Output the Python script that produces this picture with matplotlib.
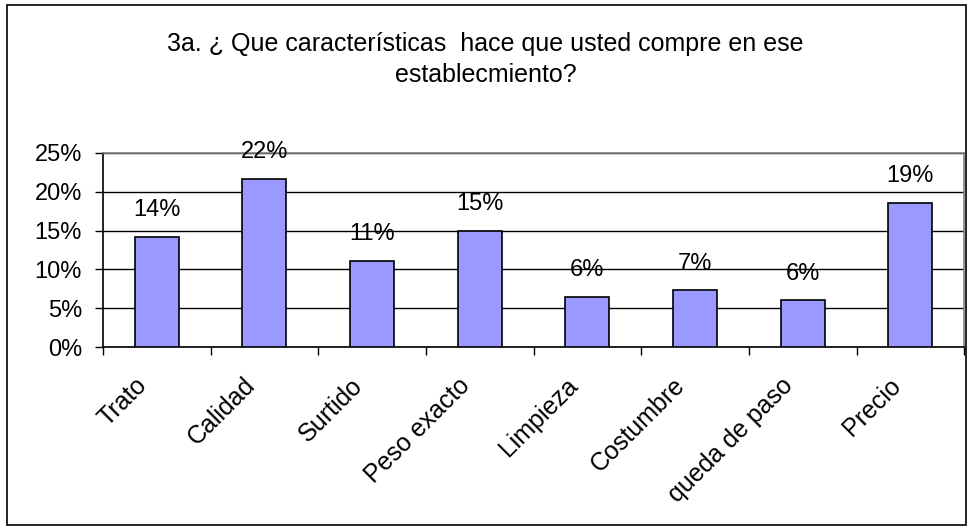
import numpy as np
import matplotlib
matplotlib.use("Agg")
import matplotlib.pyplot as plt
import matplotlib.transforms as mtransforms
from matplotlib.patches import Rectangle
from matplotlib.ticker import FixedLocator, NullFormatter

# Data
categories = ["Trato", "Calidad", "Surtido", "Peso exacto", "Limpieza",
              "Costumbre", "queda de paso", "Precio"]
values = [14.2, 21.7, 11.1, 15.0, 6.5, 7.3, 6.0, 18.6]
value_labels = ["14%", "22%", "11%", "15%", "6%", "7%", "6%", "19%"]
y_ticks = [0, 5, 10, 15, 20, 25]
title = "3a. ¿ Que características  hace que usted compre en ese\nestablecmiento?"

plt.rcParams["font.family"] = ["Liberation Sans", "DejaVu Sans"]

fig = plt.figure(figsize=(9.71, 5.31), dpi=100)
fig.patches.append(Rectangle((0.007, 0.012), 0.988, 0.978, transform=fig.transFigure,
                             fill=False, edgecolor="black", linewidth=1.2))

ax = fig.add_axes([0.106, 0.3465, 0.887, 0.3655])
x = np.arange(len(categories))
ax.bar(x, values, width=0.41, color="#9999FF", edgecolor="black", linewidth=1.2, zorder=3)

for xi, v, lab in zip(x, values, value_labels):
    ax.text(xi, v + 2.65, lab, ha="center", va="baseline", fontsize=17, color="black")

ax.set_xlim(-0.5, len(categories) - 0.5)
ax.set_ylim(0, 25)
ax.set_yticks(y_ticks)
ax.set_yticklabels([f"{t}%" for t in y_ticks], fontsize=17)
ax.yaxis.grid(True, color="black", linewidth=1.0, zorder=0)

ax.set_xticks(x)
ax.set_xticklabels(categories, rotation=45, ha="right", va="top",
                   rotation_mode="anchor", fontsize=18)
ax.tick_params(axis="x", length=0, pad=19)
shift = mtransforms.ScaledTranslation(-0.22, 0, fig.dpi_scale_trans)
for lbl in ax.get_xticklabels():
    lbl.set_transform(lbl.get_transform() + shift)
ax.xaxis.set_minor_locator(FixedLocator(np.arange(-0.5, len(categories), 1.0)))
ax.xaxis.set_minor_formatter(NullFormatter())
ax.tick_params(axis="x", which="minor", length=6, width=1, color="black")
ax.tick_params(axis="y", length=6, width=1, color="black", pad=9)

ax.spines["left"].set_color("black")
ax.spines["bottom"].set_color("black")
ax.spines["top"].set_color("#808080")
ax.spines["right"].set_color("#808080")
for s in ax.spines.values():
    s.set_linewidth(1.2)

fig.text(0.5, 0.888, title, ha="center", va="center", fontsize=18, linespacing=1.4)

fig.savefig("out.png", dpi=100)
